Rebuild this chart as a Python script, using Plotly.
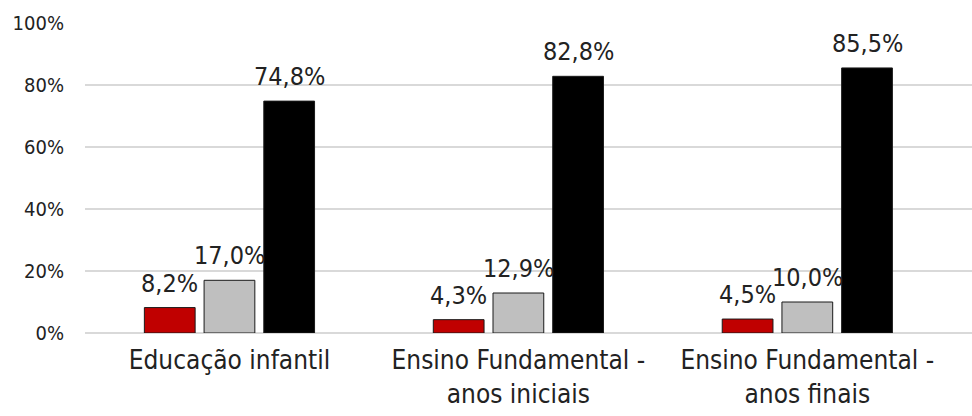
import plotly.graph_objects as go

categories = ["Educação infantil", "Ensino Fundamental -<br>anos iniciais", "Ensino Fundamental -<br>anos finais"]
serie_vermelha = [8.2, 4.3, 4.5]
serie_cinza = [17.0, 12.9, 10.0]
serie_preta = [74.8, 82.8, 85.5]
tick_vals = [0, 20, 40, 60, 80, 100]
tick_text = ["0%", "20%", "40%", "60%", "80%", "100%"]

FONT = "DejaVu Sans Condensed, DejaVu Sans, sans-serif"
W, H = 972, 416
ML, MR, MT, MB = 85, 0, 23, 83
BARGAP = 0.38
XRANGE = [-0.5, 2.57]

series = [(serie_vermelha, "#c00000"), (serie_cinza, "#bfbfbf"), (serie_preta, "#000000")]

fig = go.Figure()
for vals, color in series:
    fig.add_trace(go.Bar(
        x=categories, y=vals,
        marker=dict(color=color, line=dict(color="#1a1a1a", width=1)),
        showlegend=False, hoverinfo="x+y",
    ))

# label offsets derived from the bar layout
px_per_unit = (W - ML - MR) / (XRANGE[1] - XRANGE[0])
slot_px = (1 - BARGAP) / len(series) * px_per_unit
annotations = []
for i, (vals, _) in enumerate(series):
    for cat, v in zip(categories, vals):
        annotations.append(dict(
            x=cat, y=v, xref="x", yref="y",
            text=f"{v:.1f}%".replace(".", ","),
            showarrow=False, yanchor="bottom", xanchor="center",
            xshift=(i - (len(series) - 1) / 2) * slot_px, yshift=8,
            font=dict(size=25, color="#222222", family=FONT),
        ))

fig.update_layout(
    width=W, height=H,
    margin=dict(l=ML, r=MR, t=MT, b=MB),
    paper_bgcolor="white", plot_bgcolor="white",
    separators=",.",
    barmode="group", bargap=BARGAP, bargroupgap=0.15,
    font=dict(family=FONT, color="#222222"),
    annotations=annotations,
    xaxis=dict(range=XRANGE, showline=False, ticks="", automargin=False,
               tickfont=dict(size=26, color="#222222"), ticklabelstandoff=9),
    yaxis=dict(range=[0, 100], tickvals=tick_vals, ticktext=tick_text,
               showgrid=True, gridcolor="#d9d9d9", gridwidth=1.5,
               zeroline=True, zerolinecolor="#d9d9d9", zerolinewidth=1.5,
               automargin=False,
               tickfont=dict(size=20, color="#222222"), ticklabelstandoff=20),
)

fig.write_html("out.html")
